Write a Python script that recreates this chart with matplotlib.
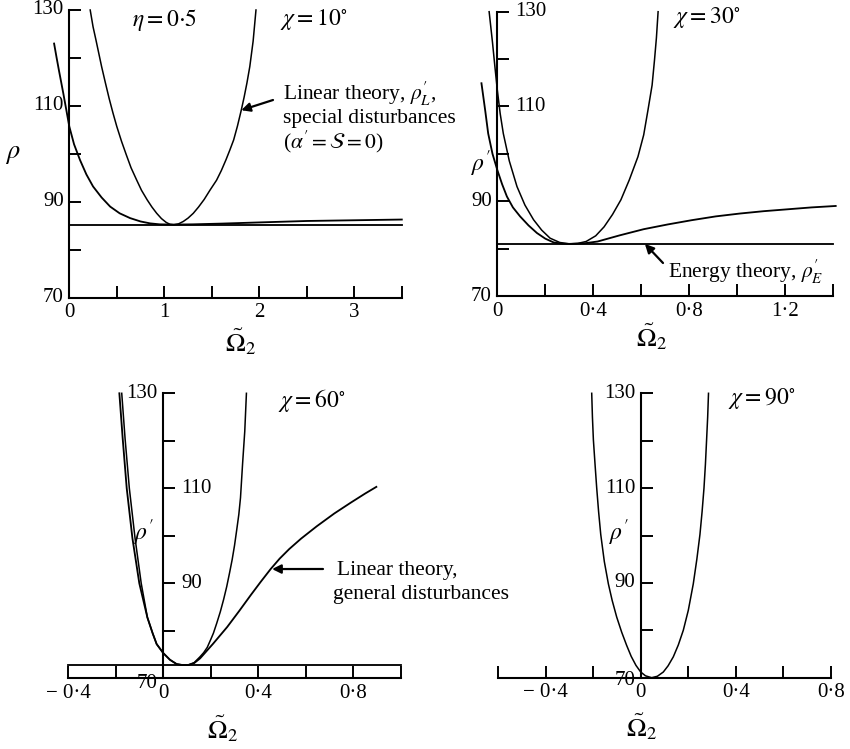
import matplotlib
matplotlib.use("Agg")
import matplotlib.pyplot as plt

# ---- data ----
# panel 1, chi = 10 deg
p1_lin_x = [0.22, 0.25, 0.28, 0.31, 0.34, 0.38, 0.42, 0.46, 0.5, 0.55, 0.6, 0.65, 0.71, 0.76,
            0.82, 0.87, 0.92, 0.97, 1.02, 1.06, 1.1, 1.15, 1.2, 1.25, 1.305, 1.36, 1.42,
            1.48, 1.55, 1.6, 1.65, 1.69, 1.73, 1.77, 1.81, 1.84, 1.87, 1.90, 1.935, 1.965]
p1_lin_rho = [130, 126.5, 123.8, 121.0, 118.2, 114.8, 111.5, 108.5, 105.7, 102.6, 99.8, 97.1,
              94.5, 92.4, 90.4, 88.9, 87.6, 86.5, 85.7, 85.3, 85.2, 85.4, 85.9, 86.6, 87.6,
              88.9, 90.5, 92.4, 94.5, 96.5, 98.8, 100.8, 102.9, 105.8, 109.1, 111.8, 114.8,
              118.2, 123.5, 130]
p1_gen_x = [-0.16, -0.135, -0.11, -0.085, -0.063, -0.03, 0.0, 0.05, 0.113, 0.18, 0.25, 0.34,
            0.43, 0.53, 0.64, 0.75, 0.85, 0.95, 1.1, 1.3, 1.6, 2.0, 2.5, 3.0, 3.5]
p1_gen_rho = [123, 120.2, 117.5, 114.9, 112.6, 109.0, 105.7, 102.0, 98.7, 95.7, 93.2, 90.9,
              89.0, 87.6, 86.6, 85.9, 85.5, 85.3, 85.25, 85.3, 85.45, 85.7, 86.0, 86.15, 86.3]
p1_energy_x = [0, 3.5]
p1_energy_rho = [85.2, 85.2]

# panel 2, chi = 30 deg
p2_lin_x = [-0.034, -0.02, -0.01, 0.0, 0.012, 0.025, 0.05, 0.082, 0.115, 0.151, 0.185, 0.22,
            0.26, 0.30, 0.335, 0.37, 0.41, 0.445, 0.48, 0.515, 0.55, 0.586, 0.61, 0.628,
            0.645, 0.655, 0.663, 0.67]
p2_lin_rho = [130, 123.5, 118.4, 113.5, 108.5, 104.3, 98.5, 93.1, 89.2, 86.1, 83.9, 82.2,
              81.3, 81.0, 81.1, 81.5, 82.7, 84.6, 87.2, 90.3, 94.5, 99.4, 104.0, 109.3,
              114.5, 119.8, 124.5, 130]
p2_gen_x = [-0.066, -0.05, -0.038, -0.02, 0.0, 0.02, 0.04, 0.065, 0.095, 0.13, 0.165, 0.2,
            0.235, 0.27, 0.30, 0.36, 0.418, 0.51, 0.61, 0.71, 0.81, 0.91, 1.01, 1.11, 1.21,
            1.31, 1.41]
p2_gen_rho = [114.9, 109.0, 104.3, 100.0, 96.6, 93.6, 91.0, 88.7, 86.8, 84.9, 83.3, 82.1,
              81.3, 81.05, 81.0, 81.1, 81.5, 82.8, 84.1, 85.1, 86.0, 86.8, 87.4, 87.9, 88.3,
              88.7, 89.0]
p2_energy_x = [0, 1.4]
p2_energy_rho = [81.0, 81.0]

# panel 3, chi = 60 deg
p3_lin_x = [-0.175, -0.161, -0.143, -0.119, -0.093, -0.067, -0.045, -0.028, 0.0, 0.028,
            0.056, 0.08, 0.105, 0.13, 0.154, 0.17, 0.185, 0.2, 0.211, 0.225, 0.24, 0.254,
            0.267, 0.279, 0.29, 0.3, 0.309, 0.318, 0.325, 0.334, 0.343, 0.35]
p3_lin_rho = [130, 120.5, 110, 99.5, 90, 82.8, 79.5, 77.2, 75.3, 73.9,
              73.0, 72.8, 72.8, 73.3, 74.5, 75.4, 76.5, 78.2, 79.5, 81.6, 84.0, 86.6,
              89.3, 92.2, 95.0, 98.0, 101.2, 104.5, 108, 115.3, 122, 130]
p3_gen_x = [-0.185, -0.171, -0.154, -0.130, -0.101, -0.067, -0.045, -0.028, 0.0, 0.028,
            0.056, 0.08, 0.105, 0.13, 0.155, 0.21, 0.269, 0.32, 0.368, 0.41, 0.452, 0.49,
            0.53, 0.58, 0.646, 0.72, 0.79, 0.85, 0.897]
p3_gen_rho = [130, 120.5, 110, 99.5, 90, 82.8, 79.5, 77.2, 75.3, 73.9,
              73.0, 72.8, 72.8, 73.2, 74.2, 77.3, 80.8, 84.2, 87.5, 90.3, 93.0, 95.2,
              97.2, 99.4, 102.0, 104.7, 107.0, 108.9, 110.3]
p3_energy_x = [-0.4, 1.0]
p3_energy_rho = [72.8, 72.8]

# panel 4, chi = 90 deg
p4_x = [-0.206, -0.203, -0.199, -0.192, -0.185, -0.177, -0.168, -0.153, -0.136, -0.12,
        -0.101, -0.08, -0.059, -0.04, -0.02, 0.0, 0.02, 0.046, 0.07, 0.095, 0.115, 0.137,
        0.158, 0.179, 0.2, 0.221, 0.236, 0.249, 0.258, 0.266, 0.272, 0.277, 0.2815, 0.285]
p4_rho = [130, 125, 120.2, 115, 110, 105, 100.2, 94.5, 89.8, 86.3,
          82.8, 79.6, 76.8, 74.5, 72.6, 71.2, 70.4, 70.0, 70.3, 71.2, 72.5, 74.4,
          76.9, 80.0, 84.2, 89.8, 95.0, 100.2, 105, 110, 115, 120.2, 125, 130]

rho_ticks = [70, 80, 90, 100, 110, 120, 130]

W, H = 850, 749
fig = plt.figure(figsize=(W / 100, H / 100), dpi=100)
plt.rcParams['font.family'] = ['Liberation Serif', 'DejaVu Serif']
plt.rcParams['mathtext.fontset'] = 'stix'

TICK_FS = 15
NOTE_FS = 15.5


def px(x, y):
    return x / W, 1 - y / H


def make_axes(x0, x1, y0, y1, xlim, xmajor, xminor, xlabels):
    ax = fig.add_axes([x0 / W, 1 - y1 / H, (x1 - x0) / W, (y1 - y0) / H])
    ax.set_xlim(xlim)
    ax.set_ylim(70, 130)
    ax.patch.set_alpha(0)
    for s in ['top', 'right']:
        ax.spines[s].set_visible(False)
    ax.spines['left'].set_position(('data', 0))
    for s in ['left', 'bottom']:
        ax.spines[s].set_linewidth(1.5)
    ax.set_xticks(xmajor)
    ax.set_xticklabels(xlabels)
    ax.set_xticks(xminor, minor=True)
    ax.set_yticks(rho_ticks)
    ax.tick_params(which='both', direction='in', length=8.5, width=1.4,
                   labelsize=TICK_FS, pad=4)
    ax.tick_params(axis='y', labelleft=False)
    return ax


def ylabels(ax, sides):
    # sides: value -> (side, dy)
    for v, (side, dy) in sides.items():
        if side == 'L':
            ax.annotate(str(v), xy=(0, v), xytext=(-4, dy), textcoords='offset points',
                        ha='right', va='center', fontsize=TICK_FS)
        else:
            ax.annotate(str(v), xy=(0, v), xytext=(13, dy), textcoords='offset points',
                        ha='left', va='center', fontsize=TICK_FS)


def arrow(ax, head, tail_px):
    ax.annotate('', xy=head, xycoords='data', xytext=(tail_px[0], H - tail_px[1]),
                textcoords='figure pixels',
                arrowprops=dict(arrowstyle='-|>', color='k', lw=1.6, shrinkA=0, shrinkB=0,
                                mutation_scale=13))


lw = 1.1

# ---- panel 1 ----
ax1 = make_axes(69.3, 401.8, 10, 297.7, (0, 3.5), [0, 1, 2, 3], [0.5, 1.5, 2.5, 3.5],
                ['0', '1', '2', '3'])
ax1.plot(p1_lin_x, p1_lin_rho, color='k', lw=lw, clip_on=False)
ax1.plot(p1_gen_x, p1_gen_rho, color='k', lw=lw * 1.2, clip_on=False)
ax1.plot(p1_energy_x, p1_energy_rho, color='k', lw=lw * 1.2, clip_on=False)
ylabels(ax1, {130: ('L', 0), 110: ('L', 0), 90: ('L', 0), 70: ('L', 0)})
fig.text(*px(165, 20), r'$\eta = 0{\cdot}5$', fontsize=17, ha='center', va='center')
fig.text(*px(314, 20), r'$\chi = 10^{\circ}$', fontsize=17, ha='center', va='center')
fig.text(*px(13, 155), r'$\rho$', fontsize=19, ha='center', va='center')
fig.text(*px(240, 342), r'$\tilde{\Omega}_{2}$', fontsize=19, ha='center', va='center')
fig.text(*px(283, 94), r"Linear theory, $\rho_L'$,", fontsize=NOTE_FS, ha='left', va='center')
fig.text(*px(283, 119), "special disturbances", fontsize=NOTE_FS, ha='left', va='center')
fig.text(*px(283, 142), r"($\alpha' = \mathcal{S} = 0$)", fontsize=NOTE_FS, ha='left',
         va='center')
arrow(ax1, (1.81, 109.1), (273, 100))

# ---- panel 2 ----
ax2 = make_axes(497.3, 833.3, 11.7, 296, (0, 1.4), [0, 0.4, 0.8, 1.2], [0.2, 0.6, 1.0, 1.4],
                ['0', '0·4', '0·8', '1·2'])
ax2.plot(p2_lin_x, p2_lin_rho, color='k', lw=lw, clip_on=False)
ax2.plot(p2_gen_x, p2_gen_rho, color='k', lw=lw * 1.2, clip_on=False)
ax2.plot(p2_energy_x, p2_energy_rho, color='k', lw=lw * 1.2, clip_on=False)
ylabels(ax2, {130: ('R', 0), 110: ('R', 0), 90: ('L', 0), 70: ('L', 0)})
fig.text(*px(707, 18), r'$\chi = 30^{\circ}$', fontsize=17, ha='center', va='center')
fig.text(*px(481, 164), r"$\rho'$", fontsize=17, ha='center', va='center')
fig.text(*px(651, 337), r'$\tilde{\Omega}_{2}$', fontsize=19, ha='center', va='center')
fig.text(*px(668, 272), r"Energy theory, $\rho_E'$", fontsize=NOTE_FS, ha='left', va='center')
arrow(ax2, (0.615, 81.0), (663, 263))

# ---- panel 3 ----
ax3 = make_axes(68.3, 400.8, 393.3, 678.3, (-0.4, 1.0), [-0.4, 0, 0.4, 0.8],
                [-0.2, 0.2, 0.6, 1.0], ['− 0·4', '0', '0·4', '0·8'])
ax3.plot(p3_lin_x, p3_lin_rho, color='k', lw=lw, clip_on=False)
ax3.plot(p3_gen_x, p3_gen_rho, color='k', lw=lw * 1.2, clip_on=False)
ax3.plot(p3_energy_x, p3_energy_rho, color='k', lw=lw * 1.2, clip_on=False)
ylabels(ax3, {130: ('L', 0), 110: ('R', 0), 90: ('R', 0), 70: ('L', -4)})
fig.text(*px(312, 400), r'$\chi = 60^{\circ}$', fontsize=17, ha='center', va='center')
fig.text(*px(144, 533), r"$\rho'$", fontsize=17, ha='center', va='center')
fig.text(*px(222, 729), r'$\tilde{\Omega}_{2}$', fontsize=19, ha='center', va='center')
fig.text(*px(337, 570), "Linear theory,", fontsize=NOTE_FS, ha='left', va='center')
fig.text(*px(333, 594), "general disturbances", fontsize=NOTE_FS, ha='left', va='center')
arrow(ax3, (0.458, 93.0), (323, 569))

# ---- panel 4 ----
ax4 = make_axes(498, 831, 393.3, 677.7, (-0.6, 0.8), [-0.4, 0, 0.4, 0.8],
                [-0.6, -0.2, 0.2, 0.6], ['− 0·4', '0', '0·4', '0·8'])
ax4.plot(p4_x, p4_rho, color='k', lw=lw, clip_on=False)
ylabels(ax4, {130: ('L', 0), 110: ('L', 0), 90: ('L', 0), 70: ('L', -2)})
fig.text(*px(762, 398), r'$\chi = 90^{\circ}$', fontsize=17, ha='center', va='center')
fig.text(*px(619, 533), r"$\rho'$", fontsize=17, ha='center', va='center')
fig.text(*px(641, 727), r'$\tilde{\Omega}_{2}$', fontsize=19, ha='center', va='center')

fig.savefig("out.png", dpi=100)
plt.close()
